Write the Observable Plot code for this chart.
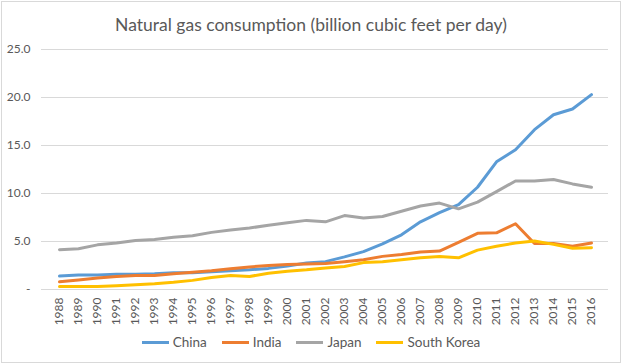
<!DOCTYPE html>
<html>
<head>
<meta charset="utf-8">
<script src="https://cdn.jsdelivr.net/npm/d3@7"></script>
<script src="https://cdn.jsdelivr.net/npm/@observablehq/plot@0.6"></script>
<style>
  html, body { margin: 0; padding: 0; background: #fff; }
  body { width: 622px; height: 364px; position: relative; overflow: hidden; font-family: Lato, "Open Sans", sans-serif; }
  #frame { position: absolute; left: 1px; top: 1px; width: 620px; height: 362px; box-sizing: border-box; border: 1px solid #d9d9d9; }
  #title { position: absolute; left: 0; width: 622px; top: 14px; text-align: center; font-size: 17.5px; color: #595959; line-height: 22px; }
  #chart { position: absolute; left: 0; top: 0; }
  #legend { position: absolute; left: 0; width: 622px; top: 334px; display: flex; justify-content: center; font-size: 13.5px; color: #595959; line-height: 16px; }
  .item { display: flex; align-items: center; margin: 0 7.5px; }
  .sw { width: 27px; height: 3px; margin-right: 4px; }
</style>
</head>
<body>
<div id="frame"></div>
<div id="chart"></div>
<div id="title">Natural gas consumption (billion cubic feet per day)</div>
<div id="legend"></div>
<script>
const years = [1988,1989,1990,1991,1992,1993,1994,1995,1996,1997,1998,1999,2000,2001,2002,2003,2004,2005,2006,2007,2008,2009,2010,2011,2012,2013,2014,2015,2016];
const seriesNames = ["China", "India", "Japan", "South Korea"];
const seriesColors = ["#5B9BD5", "#ED7D31", "#A5A5A5", "#FFC000"];
const china = [1.4,1.5,1.5,1.6,1.6,1.65,1.75,1.75,1.85,1.95,2.05,2.2,2.45,2.75,2.9,3.4,3.95,4.75,5.7,7.05,8.0,8.85,10.65,13.3,14.55,16.65,18.2,18.8,20.3];
const india = [0.8,1.0,1.2,1.35,1.45,1.45,1.65,1.8,1.95,2.15,2.35,2.5,2.6,2.65,2.7,2.9,3.1,3.45,3.65,3.9,4.0,4.9,5.85,5.9,6.85,4.8,4.8,4.5,4.85];
const japan = [4.15,4.25,4.65,4.85,5.1,5.2,5.45,5.6,5.95,6.2,6.4,6.7,6.95,7.2,7.05,7.7,7.45,7.6,8.15,8.7,9.0,8.4,9.1,10.2,11.3,11.3,11.45,11.0,10.65];
const southKorea = [0.3,0.3,0.3,0.4,0.5,0.6,0.75,0.95,1.25,1.45,1.35,1.7,1.9,2.05,2.25,2.4,2.8,2.9,3.1,3.3,3.45,3.3,4.1,4.5,4.85,5.05,4.7,4.3,4.35];
const yTicks = [0, 5, 10, 15, 20, 25];

const seriesValues = [china, india, japan, southKorea];
const data = [];
seriesNames.forEach((name, i) => {
  years.forEach((yr, j) => data.push({series: name, year: yr, value: seriesValues[i][j]}));
});

const chart = Plot.plot({
  width: 622,
  height: 364,
  marginLeft: 41,
  marginRight: 14,
  marginTop: 49,
  marginBottom: 75,
  style: { fontFamily: "Lato, 'Open Sans', sans-serif", fontSize: "12px", color: "#595959", background: "transparent" },
  x: { type: "point", domain: years, padding: 0.5, label: null },
  y: { domain: [0, 25], label: null },
  color: { domain: seriesNames, range: seriesColors },
  marks: [
    Plot.ruleY(yTicks, { stroke: "#d9d9d9", strokeWidth: 1 }),
    Plot.axisY(yTicks, { tickSize: 0, tickPadding: 11, tickFormat: d => d === 0 ? "-" : d.toFixed(1), label: null, fill: "#595959", fontSize: 12 }),
    Plot.axisX(years, { tickSize: 0, tickPadding: 8, tickRotate: -90, tickFormat: d => String(d), label: null, fill: "#595959", fontSize: 12 }),
    Plot.line(data, { x: "year", y: "value", z: "series", stroke: "series", strokeWidth: 3, strokeLinejoin: "round", strokeLinecap: "round", curve: "linear" })
  ]
});
document.getElementById("chart").appendChild(chart);

const legend = document.getElementById("legend");
seriesNames.forEach((name, i) => {
  const item = document.createElement("div");
  item.className = "item";
  const sw = document.createElement("div");
  sw.className = "sw";
  sw.style.background = seriesColors[i];
  const t = document.createElement("span");
  t.textContent = name;
  item.appendChild(sw);
  item.appendChild(t);
  legend.appendChild(item);
});
</script>
</body>
</html>
